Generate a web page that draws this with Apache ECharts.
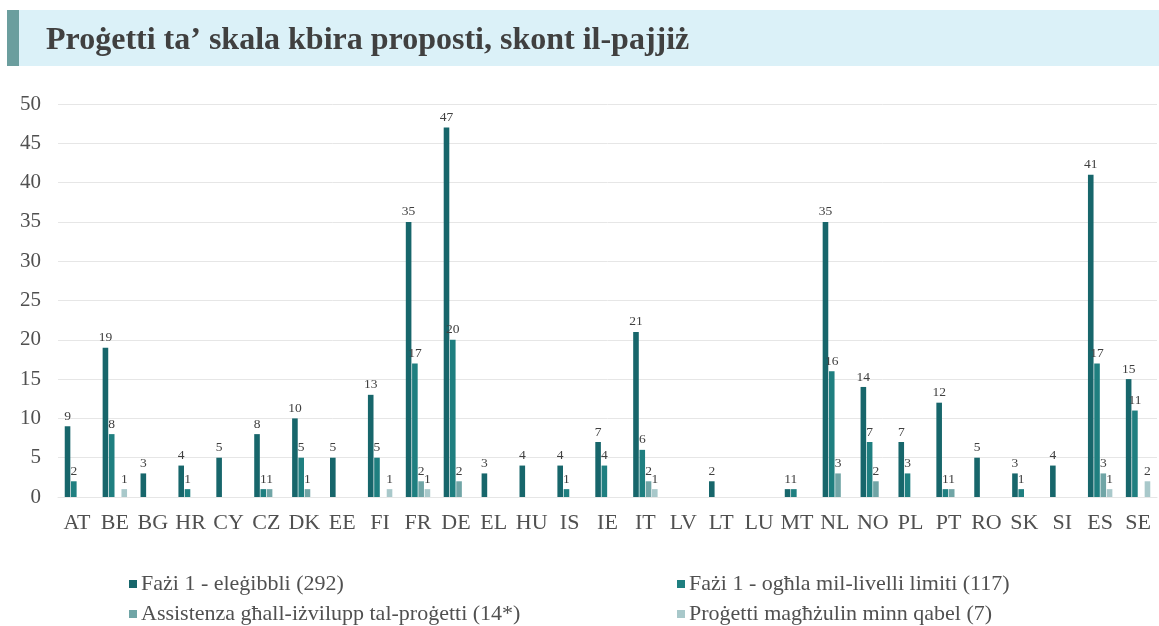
<!DOCTYPE html>
<html>
<head>
<meta charset="utf-8">
<script src="https://cdn.jsdelivr.net/npm/echarts@6/dist/echarts.min.js"></script>
<style>
  html, body { margin: 0; padding: 0; background: #fff; }
  #main { width: 1159px; height: 626px; }
</style>
</head>
<body>
<div id="main"></div>
<script>
const countries = ['AT','BE','BG','HR','CY','CZ','DK','EE','FI','FR','DE','EL','HU','IS','IE','IT','LV','LT','LU','MT','NL','NO','PL','PT','RO','SK','SI','ES','SE'];

// Fażi 1 - eleġibbli
const eligible = [9,19,3,4,5,8,10,5,13,35,47,3,4,4,7,21,0,2,0,1,35,14,7,12,5,3,4,41,15];
// Fażi 1 - ogħla mil-livelli limiti
const aboveThreshold = [2,8,0,1,0,1,5,0,5,17,20,0,0,1,4,6,0,0,0,1,16,7,3,1,0,1,0,17,11];
// Assistenza għall-iżvilupp tal-proġetti
const devAssist = [0,0,0,0,0,1,1,0,0,2,2,0,0,0,0,2,0,0,0,0,3,2,0,1,0,0,0,3,0];
// Proġetti magħżulin minn qabel
const preselected = [0,1,0,0,0,0,0,0,1,1,0,0,0,0,0,1,0,0,0,0,0,0,0,0,0,0,0,1,2];

const seriesNames = [
    'Fażi 1 - eleġibbli (292)',
    'Fażi 1 - ogħla mil-livelli limiti (117)',
    'Assistenza għall-iżvilupp tal-proġetti (14*)',
    'Proġetti magħżulin minn qabel (7)'
];
const colors = ['#17666b', '#1f7f80', '#70a5a6', '#a8c8ca'];

const serif = '"Liberation Serif", "DejaVu Serif", serif';

var myChart = echarts.init(document.getElementById('main'));

function barSeries(i, data) {
    return {
        name: seriesNames[i],
        type: 'bar',
        data: data,
        barWidth: 5.6,
        barGap: '12%',
        itemStyle: { color: colors[i] },
        label: {
            show: true,
            position: 'top',
            distance: 3,
            fontFamily: serif,
            fontSize: 13.5,
            color: '#404040',
            formatter: function (p) { return p.value === 0 ? '' : p.value; }
        }
    };
}

// one legend box per entry, laid out in two columns
function legendItem(i, left, top) {
    return {
        data: [seriesNames[i]],
        left: left,
        top: top,
        padding: 0,
        itemWidth: 8,
        itemHeight: 8,
        itemGap: 0,
        icon: 'rect',
        textStyle: { fontFamily: serif, fontSize: 22, color: '#505050', padding: [0, 0, 0, -1] }
    };
}

var option = {
    animation: false,
    textStyle: { fontFamily: serif },
    graphic: [
        { type: 'rect', shape: { x: 7, y: 10, width: 1152, height: 56 }, style: { fill: '#dbf1f8' } },
        { type: 'rect', shape: { x: 7, y: 10, width: 12, height: 56 }, style: { fill: '#6b9e9e' } }
    ],
    title: {
        text: 'Proġetti ta’ skala kbira proposti, skont il-pajjiż',
        left: 41,
        top: 20,
        textStyle: { fontFamily: serif, fontSize: 32, fontWeight: 'bold', color: '#404040' }
    },
    legend: [
        legendItem(0, 129, 573),
        legendItem(2, 129, 603),
        legendItem(1, 677, 573),
        legendItem(3, 677, 603)
    ],
    grid: { left: 58, right: 2, top: 104, bottom: 129, containLabel: false },
    xAxis: {
        type: 'category',
        data: countries,
        axisLine: { show: true, lineStyle: { color: '#e6e6e6', width: 1 } },
        axisTick: { show: false },
        axisLabel: { fontFamily: serif, fontSize: 22, color: '#505050', margin: 15, interval: 0 }
    },
    yAxis: {
        type: 'value',
        min: 0,
        max: 50,
        interval: 5,
        axisLine: { show: false },
        axisTick: { show: false },
        axisLabel: { fontFamily: serif, fontSize: 21, color: '#505050', margin: 17 },
        splitLine: { lineStyle: { color: '#e6e6e6', width: 1 } }
    },
    series: [
        barSeries(0, eligible),
        barSeries(1, aboveThreshold),
        barSeries(2, devAssist),
        barSeries(3, preselected)
    ]
};

myChart.setOption(option);
window.addEventListener('resize', myChart.resize);
</script>
</body>
</html>
